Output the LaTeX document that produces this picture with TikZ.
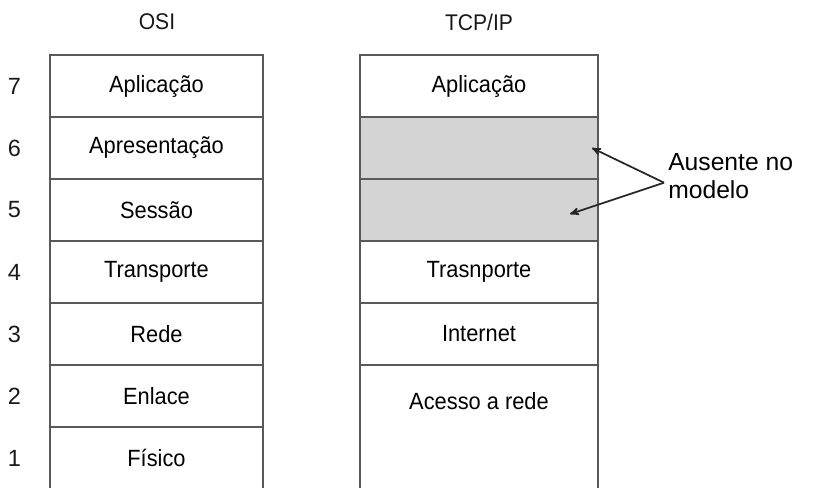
\documentclass[tikz,border=0pt]{standalone}
\usepackage{fontspec}
\setmainfont{Liberation Sans}
\setsansfont{Liberation Sans}
\newfontfamily\narrowsans[FakeStretch=0.93]{Liberation Sans}
\usetikzlibrary{arrows,positioning}
\tikzstyle{every node}=[font=\narrowsans\fontsize{17.6}{19}\selectfont, text centered, inner sep=0pt]
\tikzstyle{layer} = [draw=black!65, line width=1.2pt, rectangle, minimum height=62*0.75pt]
\tikzstyle{osilayer} = [layer, minimum width=213*0.75pt]
\tikzstyle{tcplayer} = [layer, minimum width=238*0.75pt]
\tikzstyle{absent} = [tcplayer, fill=black!17]
\tikzstyle{num} = [font=\sffamily\fontsize{17.6}{19}\selectfont, text=black!90]
\tikzstyle{title} = [font=\narrowsans\fontsize{17}{19}\selectfont, text=black!90]
\tikzstyle{line} = [draw, -stealth', line width=1.3pt, black!85]

\begin{document}
\begin{tikzpicture}[x=0.75pt,y=-0.75pt,font=\sffamily]
    \useasboundingbox (0,0) rectangle (814,487);

    % titles
    \node[title] (osiTitle) at (157,22) {OSI};
    \node[title] (tcpTitle) at (479,22) {TCP/IP};

    % OSI stack
    \node[osilayer] (osiAplic) at (156.5,86) {Aplicação};
    \node[osilayer] (osiApres) at (156.5,148) {Apresentação};
    \node[osilayer] (osiSessao) at (156.5,210) {Sessão};
    \node[osilayer] (osiTransp) at (156.5,272) {Transporte};
    \node[osilayer] (osiRede) at (156.5,334) {Rede};
    \node[osilayer] (osiEnlace) at (156.5,396) {Enlace};
    \node[osilayer] (osiFisico) at (156.5,458) {Físico};

    % layer numbers
    \node[num, left=28*0.75pt of osiAplic] (n7) {7};
    \node[num, left=28*0.75pt of osiApres] (n6) {6};
    \node[num, left=28*0.75pt of osiSessao] (n5) {5};
    \node[num, left=28*0.75pt of osiTransp] (n4) {4};
    \node[num, left=28*0.75pt of osiRede] (n3) {3};
    \node[num, left=28*0.75pt of osiEnlace] (n2) {2};
    \node[num, left=28*0.75pt of osiFisico] (n1) {1};

    % TCP/IP stack
    \node[tcplayer] (tcpAplic) at (479,86) {Aplicação};
    \node[absent] (tcpApres) at (479,148) {};
    \node[absent] (tcpSessao) at (479,210) {};
    \node[tcplayer] (tcpTransp) at (479,272) {Trasnporte};
    \node[tcplayer] (tcpInternet) at (479,334) {Internet};
    \node[tcplayer, minimum height=124*0.75pt] (tcpAcesso) at (479,427) {};
    \node (acessoLabel) at (479,401) {Acesso a rede};

    % note
    \node[font=\sffamily\fontsize{18.5}{21}\selectfont, align=left, anchor=west] (note) at (668,176) {Ausente no\\modelo};
    \coordinate (tipApres) at (592,148);
    \coordinate (tipSessao) at (570,214);
    \draw[line] ([xshift=-3pt,yshift=-5pt]note.west) -- (tipApres);
    \draw[line] ([xshift=-3pt,yshift=-5pt]note.west) -- (tipSessao);

  \end{tikzpicture}
\end{document}
